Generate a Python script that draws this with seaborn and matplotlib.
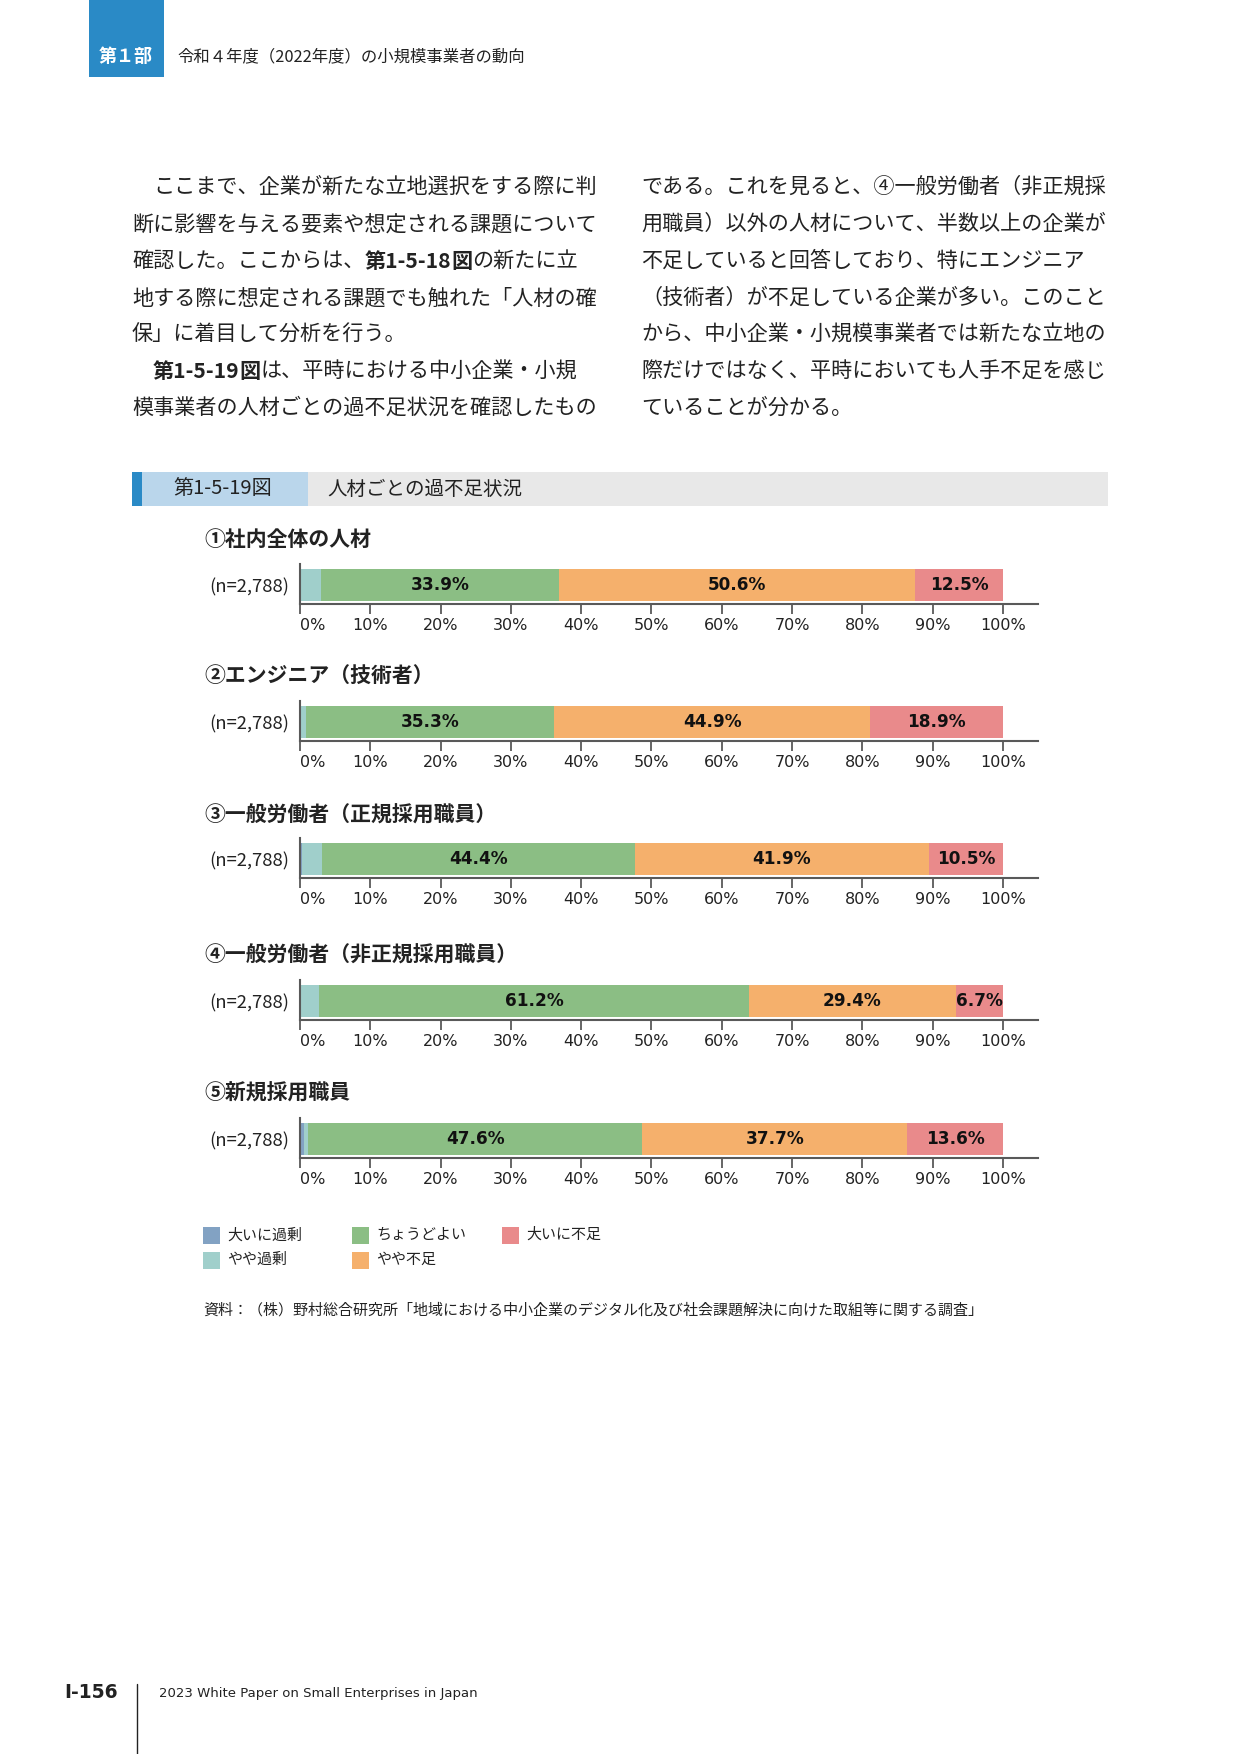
import matplotlib
matplotlib.use("Agg")
import matplotlib.pyplot as plt
from matplotlib.patches import Rectangle
import numpy as np
import pandas as pd
import seaborn as sns

# ---- data ----
categories = ["大いに過剰", "やや過剰", "ちょうどよい", "やや不足", "大いに不足"]
colors = ["#82A2C3", "#A0CFCB", "#8BBE84", "#F5B06C", "#E98A8B"]
panel_titles = ["①社内全体の人材", "②エンジニア（技術者）", "③一般労働者（正規採用職員）",
                "④一般労働者（非正規採用職員）", "⑤新規採用職員"]
n_label = "(n=2,788)"
very_surplus = [0.2, 0.1, 0.3, 0.2, 0.5]
some_surplus = [2.8, 0.8, 2.9, 2.5, 0.6]
just_right = [33.9, 35.3, 44.4, 61.2, 47.6]
some_short = [50.6, 44.9, 41.9, 29.4, 37.7]
very_short = [12.5, 18.9, 10.5, 6.7, 13.6]
x_ticks = list(range(0, 101, 10))

W, H = 1241, 1754
sns.set_theme(style="white")
plt.rcParams["font.family"] = ["Noto Sans CJK JP", "DejaVu Sans"]
TXT = "#222222"
AX = "#595959"

fig = plt.figure(figsize=(W / 100, H / 100), dpi=100)
fig.patch.set_facecolor("white")


def fx(x):
    return x / W


def fy(y):
    return 1 - y / H


def rect(x0, y0, x1, y1, color):
    fig.patches.append(Rectangle((fx(x0), fy(y1)), (x1 - x0) / W, (y1 - y0) / H,
                                 transform=fig.transFigure, color=color, lw=0))


renderer = fig.canvas.get_renderer()


def rich_line(x, y, parts, size=15.2):
    for txt, bold in parts:
        t = fig.text(fx(x), fy(y), txt, fontsize=size, color=TXT, va="center", ha="left",
                     fontweight="bold" if bold else "normal")
        x += t.get_window_extent(renderer).width


# ---- page header ----
rect(89, 0, 164, 77, "#2A8AC6")
fig.text(fx(126), fy(57), "第１部", color="white", fontsize=13, fontweight="bold",
         ha="center", va="center")
fig.text(fx(177), fy(57), "令和４年度（2022年度）の小規模事業者の動向", color=TXT,
         fontsize=11.8, ha="left", va="center")

# ---- body text ----
cw = 21.1
left_lines = [
    [("ここまで、企業が新たな立地選択をする際に判", False)],
    [("断に影響を与える要素や想定される課題について", False)],
    [("確認した。ここからは、", False), ("第1-5-18", True), ("図", True), ("の新たに立", False)],
    [("地する際に想定される課題でも触れた「人材の確", False)],
    [("保」に着目して分析を行う。", False)],
    [("第1-5-19", True), ("図", True), ("は、平時における中小企業・小規", False)],
    [("模事業者の人材ごとの過不足状況を確認したもの", False)],
]
right_lines = [
    "である。これを見ると、④一般労働者（非正規採",
    "用職員）以外の人材について、半数以上の企業が",
    "不足していると回答しており、特にエンジニア",
    "（技術者）が不足している企業が多い。このこと",
    "から、中小企業・小規模事業者では新たな立地の",
    "際だけではなく、平時においても人手不足を感じ",
    "ていることが分かる。",
]
line_y = [187, 224, 261, 298, 335, 372, 408]
for i, parts in enumerate(left_lines):
    x0 = 132 + (cw if i in (0, 5) else 0)
    rich_line(x0, line_y[i], parts)
for i, s in enumerate(right_lines):
    rich_line(641, line_y[i], [(s, False)])

# ---- figure title band ----
rect(132, 472, 1108, 506, "#E8E8E8")
rect(132, 472, 142, 506, "#2A8AC6")
rect(142, 472, 308, 506, "#BAD6EB")
fig.text(fx(173), fy(489), "第1-5-19図", fontsize=14.5, color=TXT, ha="left", va="center")
fig.text(fx(327), fy(489), "人材ごとの過不足状況", fontsize=14, color=TXT, ha="left", va="center")

# ---- panels ----
bar_tops = [569, 706, 843, 985, 1123]
title_y = [539, 676, 815, 955, 1093]
bar_h = 32
ax_left, ax_right = 300, 1038
series = np.array([very_surplus, some_surplus, just_right, some_short, very_short])

for i in range(5):
    top = bar_tops[i] - 5
    bottom = bar_tops[i] + bar_h + 3
    ax = fig.add_axes([fx(ax_left), fy(bottom), (ax_right - ax_left) / W, (bottom - top) / H])
    vals = series[:, i]
    cum = np.cumsum(vals)
    df = pd.DataFrame({"label": n_label, "cat": categories, "cum": cum})
    sns.barplot(data=df, x="cum", y="label", hue="cat", hue_order=categories[::-1],
                palette=dict(zip(categories, colors)), dodge=False, saturation=1,
                width=1, linewidth=0, legend=False, ax=ax)
    ax.set_xlim(0, 105)
    ax.set_ylim(0.5 + 3 / bar_h, -0.5 - 5 / bar_h)
    starts = cum - vals
    for k in (2, 3, 4):
        ax.text(starts[k] + vals[k] / 2, 0, f"{vals[k]:.1f}%", ha="center", va="center",
                fontsize=12.2, fontweight="bold", color="#111111", family="DejaVu Sans")
    ax.set_xlabel("")
    ax.set_ylabel("")
    ax.set_xticks(x_ticks)
    ax.set_xticklabels([f"{t}%" for t in x_ticks], family="DejaVu Sans", fontsize=11.5, color=TXT)
    ax.get_xticklabels()[0].set_horizontalalignment("left")
    ax.tick_params(axis="x", direction="out", length=7, width=1.3, color=AX, pad=3, bottom=True)
    ax.tick_params(axis="y", length=0, pad=8, labelsize=13.3, labelcolor=TXT)
    for s in ("top", "right"):
        ax.spines[s].set_visible(False)
    for s in ("left", "bottom"):
        ax.spines[s].set_visible(True)
        ax.spines[s].set_color(AX)
        ax.spines[s].set_linewidth(1.5)
    ax.set_facecolor("white")
    fig.text(fx(204), fy(title_y[i]), panel_titles[i], fontsize=15, fontweight="bold",
             color=TXT, ha="left", va="center")

# ---- legend (fixed grid of swatches, column-major) ----
leg_x = [203, 352, 502]
leg_y = [1235, 1260]
for j, (c, lab) in enumerate(zip(colors, categories)):
    col, row = divmod(j, 2)
    x0, yc = leg_x[col], leg_y[row]
    rect(x0, yc - 8.5, x0 + 17, yc + 8.5, c)
    fig.text(fx(x0 + 24), fy(yc), lab, fontsize=10.8, color=TXT, ha="left", va="center")

# ---- source ----
fig.text(fx(203), fy(1310),
         "資料：（株）野村総合研究所「地域における中小企業のデジタル化及び社会課題解決に向けた取組等に関する調査」",
         fontsize=10.8, color=TXT, ha="left", va="center")

# ---- footer ----
fig.text(fx(64), fy(1693), "I-156", fontsize=13.5, fontweight="bold", color=TXT,
         ha="left", va="center", family="DejaVu Sans")
fig.add_artist(plt.Line2D([fx(137), fx(137)], [fy(1684), fy(1754)], color=TXT, lw=1,
                          transform=fig.transFigure))
fig.text(fx(159), fy(1693), "2023 White Paper on Small Enterprises in Japan", fontsize=9.5,
         color=TXT, ha="left", va="center", family="DejaVu Sans")

fig.savefig("out.png", dpi=100, facecolor="white")
